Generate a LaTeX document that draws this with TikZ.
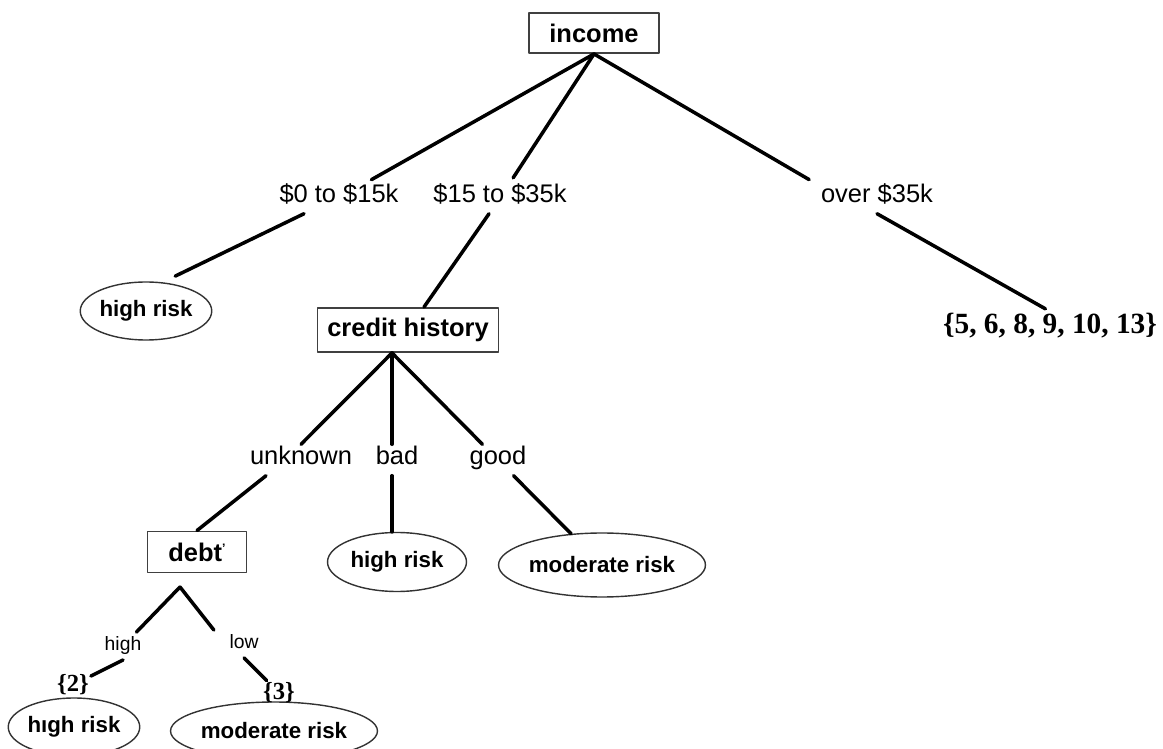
\documentclass[tikz,border=0pt]{standalone}
\usepackage{fontspec}
\setmainfont{Liberation Sans}
\newfontfamily\serifbold{Liberation Serif}
\usetikzlibrary{shapes.geometric}

\begin{document}
\begin{tikzpicture}[x=0.02cm,y=-0.02cm,line join=round,line cap=round,
  attr/.style={draw=black!75,line width=1.1pt,inner sep=0pt,font=\fontsize{14.5}{16}\selectfont\bfseries},
  leaf/.style={ellipse,draw=black!80,line width=0.8pt,inner sep=0pt,font=\fontsize{12.7}{15}\selectfont\bfseries},
  val/.style={inner sep=4pt,text height=0.75em,text depth=0.2em,font=\fontsize{14.5}{16}\selectfont},
  subval/.style={val,inner sep=3pt,font=\fontsize{11}{13}\selectfont},
  cases/.style={inner sep=1pt,font=\serifbold\bfseries\fontsize{#1}{#1}\selectfont},
  cases/.default=16.7,
  edge/.style={line width=2pt}]
\useasboundingbox (0,0) rectangle (1163,749);

% tests
\node[attr,minimum width=2.6cm,minimum height=0.8cm] (income) at (594,33) {income};
\node[attr,minimum width=3.62cm,minimum height=0.88cm] (credit) at (408,330) {credit history};
\node[attr,minimum width=1.98cm,minimum height=0.82cm] (debt) at (197,552) {debt\raisebox{0.35em}{\scriptsize'}};

% branch values
\node[val] (l1) at (339,198) {\$0 to \$15k};
\node[val] (l2) at (500,198) {\$15 to \$35k};
\node[val] (l3) at (877,198) {over \$35k};
\node[val] (l4) at (301,460) {unknown};
\node[val] (l5) at (397,460) {bad};
\node[val] (l6) at (498,460) {good};
\node[subval] (l7) at (123,646) {high};
\node[subval] (l8) at (244,644) {low};

% leaves
\node[leaf,minimum width=2.46cm,minimum height=1.16cm] (hr1) at (146,311) {high risk};
\node[leaf,minimum width=2.78cm,minimum height=1.18cm] (hr2) at (397,562) {high risk};
\node[leaf,minimum width=3.54cm,minimum height=1.28cm] (mr1) at (602,565) {moderate risk};
\node[leaf,minimum width=2.56cm,minimum height=1.16cm] (hr3) at (74,727) {h\i gh risk};
\node[leaf,minimum width=3.84cm,minimum height=1.16cm] (mr2) at (274,731) {moderate risk};
\node[cases] (s1) at (1050,326) {\{5, 6, 8, 9, 10, 13\}};
\node[cases=14] (s2) at (73,685) {\{2\}};
\node[cases=14] (s3) at (279,693) {\{3\}};

\coordinate (chfork) at ([xshift=-0.32cm]credit.south);
\coordinate (dfork) at (180,587);

\foreach \b in {l1, l2, l3.north west}
  \draw[edge,shorten >=3pt] (income.south) -- (\b);
\foreach \a/\b in {l2/credit, chfork/l4.north, chfork/l6, l6/mr1,
    l7.south/s2, l8.south/s3, dfork/l7}
  \draw[edge] (\a) -- (\b);
\draw[edge,shorten >=8pt] ([xshift=-0.7cm]l1.south) -- (hr1.60);
\draw[edge,shorten >=3pt] (l3.south) -- (s1.north);
\draw[edge] (chfork) -- (chfork |- l5.north);
\draw[edge] (chfork |- l5.south) -- (chfork |- hr2.north);
\draw[edge] ([xshift=-0.7cm]l4.south) -- (debt.north);
\draw[edge] (dfork) -- ([xshift=-0.2cm]l8.north west);
\end{tikzpicture}
\end{document}
